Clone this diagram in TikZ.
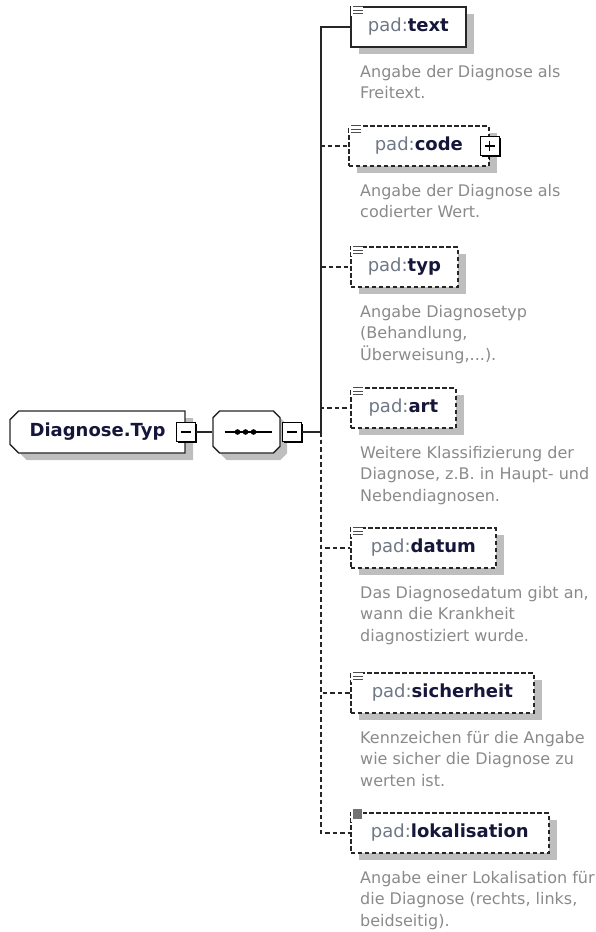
\documentclass[tikz,border=0pt]{standalone}
\usepackage{fontspec}
\setmainfont{DejaVu Sans}
\usepackage{xcolor}
\usetikzlibrary{shapes.misc,shadows,calc}
\definecolor{padgray}{HTML}{6E7886}
\definecolor{namenavy}{HTML}{16163A}
\definecolor{descgray}{HTML}{8A8A8A}
\definecolor{shadegray}{HTML}{BEBEBE}
\newcommand{\elname}[1]{{\color{padgray}pad:}{\bfseries\color{namenavy}#1}}
\newcommand{\elicon}[1]{%
  \fill[white] ($(#1.north west)+(1,-2)$) rectangle ($(#1.north west)+(13,10)$);
  \foreach \dy in {0.5,4,7.5}
    \draw[black!70, line width=1.1pt] ($(#1.north west)+(3,\dy)$) -- ++(10,0);}
\newcommand{\minusmark}[1]{\draw[line width=1.2pt] (#1.center) +(-5,0) -- +(5,0);}
\tikzset{
  rootbox/.style    = {chamfered rectangle, chamfered rectangle corners={north west,south west},
                       chamfered rectangle xsep=5pt, draw=black!85, line width=1.4pt, fill=white,
                       minimum width=175pt, minimum height=42pt, inner sep=0pt,
                       font=\fontsize{18}{20}\selectfont\bfseries, text=namenavy,
                       drop shadow={shadow xshift=8pt, shadow yshift=-7pt, fill=shadegray, opacity=1}},
  seqbox/.style     = {chamfered rectangle, chamfered rectangle xsep=10pt, draw=black!85,
                       line width=1.4pt, fill=white, minimum width=67pt, minimum height=42pt,
                       drop shadow={shadow xshift=7pt, shadow yshift=-7pt, fill=shadegray, opacity=1}},
  togglebox/.style  = {rectangle, draw=black, line width=1.4pt, fill=white, minimum size=19pt,
                       inner sep=0pt,
                       drop shadow={shadow xshift=1.5pt, shadow yshift=-1.5pt, fill=black, opacity=1}},
  elbox/.style      = {rectangle, draw=black!85, line width=1.7pt, fill=white, anchor=west,
                       minimum height=40pt, minimum width=#1, inner xsep=3pt,
                       font=\fontsize{18}{20}\selectfont,
                       drop shadow={shadow xshift=8pt, shadow yshift=-7pt, fill=shadegray, opacity=1}},
  optbox/.style     = {elbox=#1, dash pattern=on 4.5pt off 2.5pt},
  eldesc/.style     = {anchor=north west, align=left, inner sep=0pt, text=descgray,
                       font=\fontsize{16}{21.5}\selectfont},
  solidlink/.style  = {draw=black!85, line width=1.5pt},
  optlink/.style    = {solidlink, dash pattern=on 4.5pt off 3pt},
}
\begin{document}
\begin{tikzpicture}[x=1pt,y=-1pt]
  \useasboundingbox (0,0) rectangle (595,932);

  % complex type and its sequence
  \node[rootbox]   (root)      at (97.5,432) {Diagnose.Typ\hspace{10pt}};
  \node[togglebox] (rootminus) at (186,432)  {};
  \node[seqbox]    (seq)       at (246.5,432){};
  \node[togglebox] (seqminus)  at (292,432)  {};
  \minusmark{rootminus}
  \minusmark{seqminus}
  \draw[line width=1.3pt] ($(seq.center)+(-22,0)$) -- ($(seq.center)+(25,0)$);
  \foreach \dx in {-9,-1,7}
    \fill ($(seq.center)+(\dx,0)$) circle (2.8pt);
  \coordinate (branch) at (321,432);

  % child elements
  \node[elbox=115pt]  (text)  at (350,27)  {\elname{text}};
  \node[optbox=140pt] (code)  at (348,146) {\elname{code}};
  \node[optbox=107pt] (typ)   at (350,267) {\elname{typ}};
  \node[optbox=105pt] (art)   at (350,408) {\elname{art}};
  \node[optbox=145pt] (datum) at (350,548) {\elname{datum}};
  \node[optbox=183pt] (sicher)at (350,693) {\elname{sicherheit}};
  \node[optbox=198pt] (lokal) at (350,833) {\elname{lokalisation}};

  \node[togglebox] (codeplus) at (code.east) {};
  \draw[line width=1.2pt] (codeplus.center) +(-5,0) -- +(5,0) (codeplus.center) +(0,-5) -- +(0,5);
  \draw[line width=1.2pt] (codeplus.south) -- ++(0,4);

  \elicon{text}
  \elicon{code}
  \elicon{typ}
  \elicon{art}
  \elicon{datum}
  \elicon{sicher}
  \fill[white] ($(lokal.north west)+(1,-2)$) rectangle ($(lokal.north west)+(13,10)$);
  \fill[black!55] ($(lokal.north west)+(3,-3)$) rectangle ($(lokal.north west)+(12,7)$);

  % descriptions
  \node[eldesc] (textdesc)  at (360,65)  {Angabe der Diagnose als\\Freitext.};
  \node[eldesc] (codedesc)  at (360,184) {Angabe der Diagnose als\\codierter Wert.};
  \node[eldesc] (typdesc)   at (360,305) {Angabe Diagnosetyp\\(Behandlung,\\Überweisung,...).};
  \node[eldesc] (artdesc)   at (360,446) {Weitere Klassifizierung der\\Diagnose, z.B. in Haupt- und\\Nebendiagnosen.};
  \node[eldesc] (datumdesc) at (360,586) {Das Diagnosedatum gibt an,\\wann die Krankheit\\diagnostiziert wurde.};
  \node[eldesc] (sicherdesc)at (360,731) {Kennzeichen für die Angabe\\wie sicher die Diagnose zu\\werten ist.};
  \node[eldesc] (lokaldesc) at (360,871) {Angabe einer Lokalisation für\\die Diagnose (rechts, links,\\beidseitig).};

  % connectors
  \draw[solidlink] (rootminus) -- (seq);
  \draw[solidlink] (seqminus) -- (branch);
  \draw[optlink] (branch) |- (lokal.west);
  \draw[optlink] (branch) |- (sicher.west);
  \draw[optlink] (branch) |- (datum.west);
  \draw[optlink] (branch) |- (art.west);
  \draw[optlink] (branch) |- (typ.west);
  \draw[optlink] (branch) |- (code.west);
  \draw[solidlink] (branch) |- (text.west);
\end{tikzpicture}
\end{document}
